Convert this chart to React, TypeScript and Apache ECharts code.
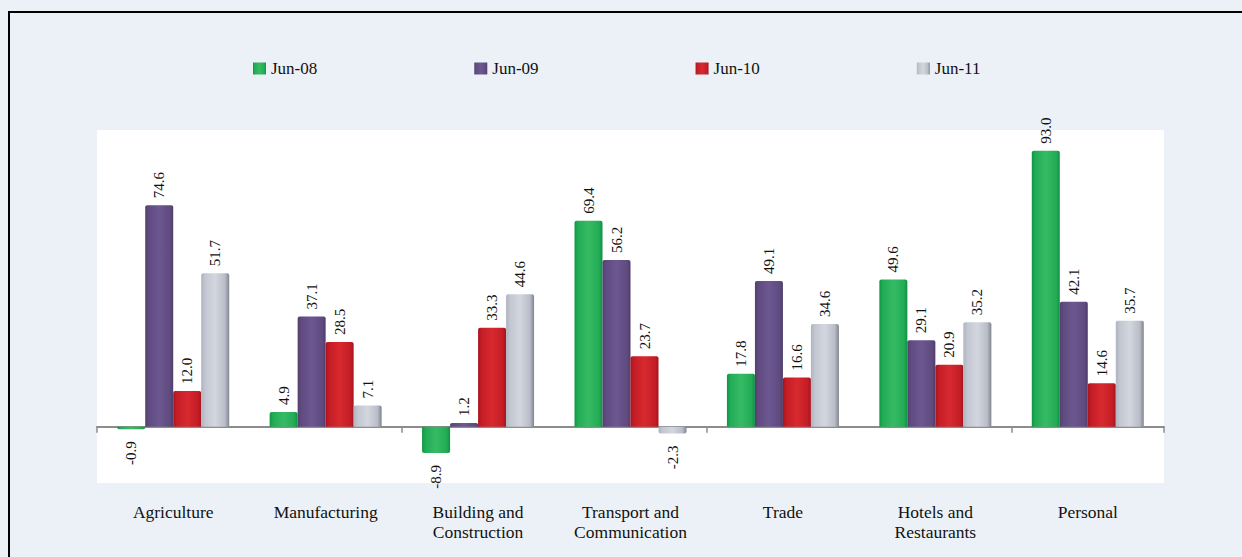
import React, { useEffect, useRef } from "react";
import * as echarts from "echarts";

const categories = [
  "Agriculture",
  "Manufacturing",
  "Building and Construction",
  "Transport and Communication",
  "Trade",
  "Hotels and Restaurants",
  "Personal",
];
const seriesNames = ["Jun-08", "Jun-09", "Jun-10", "Jun-11"];
const jun08 = [-0.9, 4.9, -8.9, 69.4, 17.8, 49.6, 93.0];
const jun09 = [74.6, 37.1, 1.2, 56.2, 49.1, 29.1, 42.1];
const jun10 = [12.0, 28.5, 33.3, 23.7, 16.6, 20.9, 14.6];
const jun11 = [51.7, 7.1, 44.6, -2.3, 34.6, 35.2, 35.7];

const FONT = "'Liberation Serif', 'Times New Roman', serif";

const grad = (stops: [number, string][]) =>
  new echarts.graphic.LinearGradient(
    0, 0, 1, 0,
    stops.map(([offset, color]) => ({ offset, color }))
  );

const palettes = [
  grad([[0, "#0c9643"], [0.12, "#22ab55"], [0.5, "#36bb64"], [0.88, "#22ab55"], [1, "#118f44"]]),
  grad([[0, "#52406e"], [0.12, "#5f4b7f"], [0.5, "#6c5791"], [0.88, "#5f4b7f"], [1, "#4f3d69"]]),
  grad([[0, "#a9131d"], [0.12, "#c41d26"], [0.5, "#d8292f"], [0.88, "#c41d26"], [1, "#a3141c"]]),
  grad([[0, "#aeb3bf"], [0.15, "#c3c7d1"], [0.5, "#d3d6de"], [0.85, "#b9bdc8"], [1, "#80858f"]]),
];

const App: React.FC = () => {
  const ref = useRef<HTMLDivElement>(null);

  useEffect(() => {
    if (!ref.current) return;
    const chart = echarts.init(ref.current, undefined, { renderer: "svg" });
    const dataSets = [jun08, jun09, jun10, jun11];

    const series = dataSets.map((vals, i) => ({
      name: seriesNames[i],
      type: "bar",
      xAxisIndex: 0,
      yAxisIndex: 0,
      barWidth: 28,
      barGap: "0%",
      itemStyle: { color: palettes[i], borderRadius: [2, 2, 0, 0] },
      label: {
        show: true,
        position: "top",
        rotate: 90,
        align: "left",
        verticalAlign: "middle",
        distance: 7,
        fontFamily: FONT,
        fontSize: 15,
        color: "#111",
        formatter: (p: any) => Number(p.value).toFixed(1),
      },
      data: vals.map((v) =>
        v < 0
          ? {
              value: v,
              label: { position: "bottom", align: "right", distance: 12 },
              itemStyle: { borderRadius: [0, 0, 2, 2] },
            }
          : { value: v }
      ),
    }));

    chart.setOption({
      animation: false,
      backgroundColor: "#ECF1F8",
      graphic: [
        {
          type: "polyline",
          silent: true,
          shape: { points: [[9, 600], [9, 12], [1260, 12]] },
          style: { stroke: "#000", lineWidth: 2, fill: null },
        },
      ],
      legend: {
        data: seriesNames,
        left: 248,
        top: 54,
        itemWidth: 13,
        itemHeight: 12,
        itemGap: 157,
        icon: "rect",
        textStyle: { fontFamily: FONT, fontSize: 17, color: "#111", lineHeight: 19 },
      },
      grid: {
        left: 97,
        right: 78,
        top: 130,
        bottom: 74,
        show: true,
        backgroundColor: "#ffffff",
        borderWidth: 0,
        containLabel: false,
      },
      xAxis: [
        {
          type: "category",
          data: categories,
          position: "bottom",
          axisLine: { show: false, onZero: false },
          axisTick: { show: false },
          splitLine: { show: false },
          axisLabel: {
            interval: 0,
            margin: 19,
            fontFamily: FONT,
            fontSize: 17.5,
            lineHeight: 20,
            color: "#111",
            formatter: (v: string) => v.replace(" and ", " and\n"),
          },
        },
        {
          type: "category",
          data: categories,
          position: "top",
          axisLine: { show: true, onZero: true, lineStyle: { color: "#8c8c8c", width: 2 } },
          axisTick: { show: true, inside: true, length: 6, lineStyle: { color: "#8c8c8c", width: 1.5 } },
          axisLabel: { show: false },
          splitLine: { show: false },
        },
      ],
      yAxis: {
        type: "value",
        min: -19,
        max: 100,
        show: false,
        splitLine: { show: false },
      },
      series,
    });

    return () => chart.dispose();
  }, []);

  return (
    <div
      ref={ref}
      style={{ position: "fixed", left: 0, top: 0, width: 1242, height: 557 }}
    />
  );
};

export default App;
